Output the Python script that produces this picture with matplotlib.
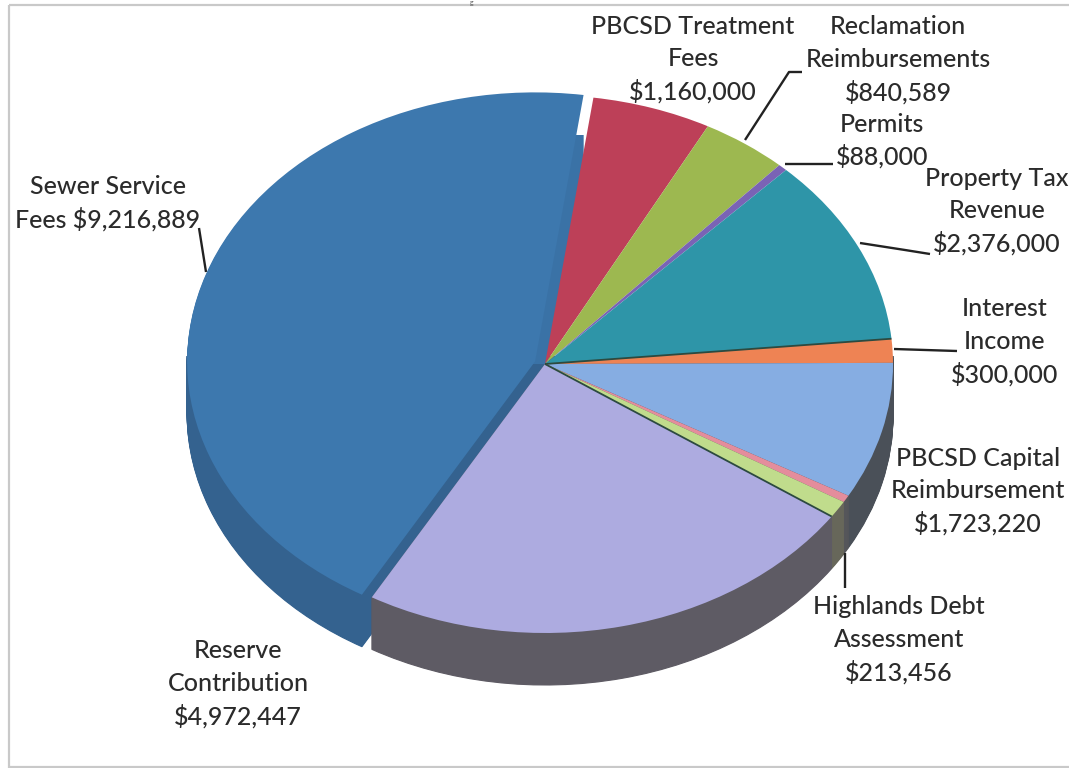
import matplotlib
matplotlib.use("Agg")
import matplotlib.pyplot as plt
from matplotlib.patches import Rectangle
from matplotlib.path import Path
from matplotlib.transforms import Affine2D
import numpy as np

W, H = 1069, 768
plt.rcParams['font.family'] = ['Lato', 'DejaVu Sans']

# Data (clockwise from the top)
categories = ["PBCSD Treatment\nFees\n$1,160,000",
              "Reclamation\nReimbursements\n$840,589",
              "Permits\n$88,000",
              "Property Tax\nRevenue\n$2,376,000",
              "Interest\nIncome\n$300,000",
              "PBCSD Capital\nReimbursement\n$1,723,220",
              "",
              "Highlands Debt\nAssessment\n$213,456",
              "Reserve\nContribution\n$4,972,447",
              "Sewer Service\nFees $9,216,889"]
values = [1160000, 840589, 88000, 2376000, 300000, 1723220, 90000, 213456, 4972447, 9216889]
top_colors = ['#bd4058', '#9db850', '#7a63b5', '#2e95a8', '#ee8354', '#86ade2',
              '#e48d9c', '#c0dc8c', '#adabe0', '#3d78ae']
rim_colors = ['#7d2a3a', '#6a7d35', '#4e3f78', '#1f6270', '#4a5058', '#4a5058',
              '#55565a', '#67675a', '#5e5b64', '#34628f']
explode = [0, 0, 0, 0, 0, 0, 0, 0, 0, 0.03]

# Label anchor positions in page pixels (centre x, first-line y)
label_pos = [(693, 26), (898, 27), (882, 124), (997, 178), (1005, 309),
             (978, 458), None, (899, 607), (238, 651), (108, 187)]
leaders = [[(745, 140), (789, 72), (802, 72)],
           [(785, 164), (833, 164)],
           [(860, 243), (905, 250), (930, 254)],
           [(894, 349), (957, 351)],
           [(845, 553), (845, 588)],
           [(199, 228), (206, 272)]]

CX, CY, RX, RY, DEPTH = 545, 364, 348, 269, 52
START = 82.0

fig = plt.figure(figsize=(W / 100, H / 100), dpi=100, facecolor='white')
ax = fig.add_axes([0, 0, 1, 1])
ax.set_xlim(-CX / RX, (W - CX) / RX)
ax.set_ylim((CY - H) / RY, CY / RY)
unit = Path.unit_rectangle()
lower_tf = Affine2D().scale(6, 4.03).translate(-3, -4) + ax.transData
upper_tf = Affine2D().scale(6, 0.85).translate(-3, 0) + ax.transData

# side wall, lower half only
for k in range(DEPTH, 0, -1):
    wedges, _ = ax.pie(values, colors=rim_colors, explode=explode, startangle=START,
                       counterclock=False, center=(0, -k / RY), radius=1,
                       wedgeprops=dict(linewidth=0.8))
    for w, c in zip(wedges, rim_colors):
        w.set_edgecolor(c)
        w.set_clip_on(True)
        w.set_clip_path(unit, lower_tf)
# upper part of the exploded slice's cut face, closes the gap towards the centre
for k in range(75, 0, -1):
    strip, _ = ax.pie(values, colors=top_colors, explode=explode, startangle=START,
                      counterclock=False, center=(0, -k / RY), radius=1,
                      wedgeprops=dict(linewidth=0))
    for i, w in enumerate(strip):
        if i == len(strip) - 1:
            w.set_facecolor('#3a72a6')
            w.set_clip_on(True)
            w.set_clip_path(unit, upper_tf)
        else:
            w.set_visible(False)
wedges, _ = ax.pie(values, colors=top_colors, explode=explode, startangle=START,
                   counterclock=False, center=(0, 0), radius=1,
                   wedgeprops=dict(linewidth=0))
# dark hairlines between some slices
for idx in (3, 7):
    a = np.deg2rad(wedges[idx].theta1)
    ax.plot([0, np.cos(a)], [0, np.sin(a)], color='#2c4a40', lw=1.3, solid_capstyle='butt')
ax.set_aspect('auto')
ax.set_xlim(-CX / RX, (W - CX) / RX)
ax.set_ylim((CY - H) / RY, CY / RY)
ax.axis('off')

ov = fig.add_axes([0, 0, 1, 1], facecolor='none')
ov.set_xlim(0, W)
ov.set_ylim(H, 0)
ov.axis('off')
ov.add_patch(Rectangle((9, 5), W - 9 + 5, H - 6, fill=False, ec='#c9c9c9', lw=1.6))
ov.text(472, 2.5, 'g', ha='center', va='center', fontsize=5, color='#555555')
for pts in leaders:
    xs, ys = zip(*pts)
    ov.plot(xs, ys, color='#222222', lw=1.7, solid_capstyle='butt')
for lab, pos in zip(categories, label_pos):
    if pos is None:
        continue
    for j, line in enumerate(lab.split('\n')):
        ov.text(pos[0], pos[1] + j * 32.7, line, ha='center', va='center',
                fontsize=18, weight='medium', color='#2b2b2b', clip_on=False)

fig.savefig('out.png', dpi=100, facecolor='white')
